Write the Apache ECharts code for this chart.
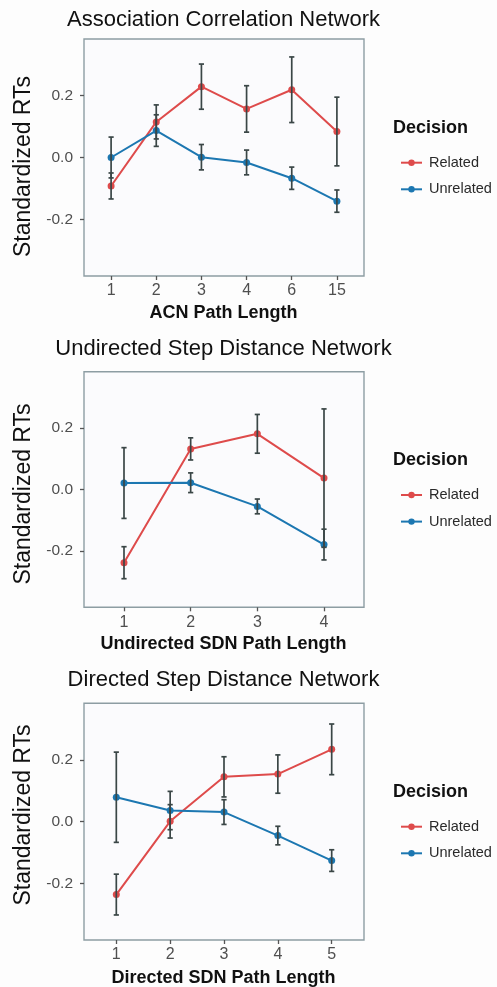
<!DOCTYPE html>
<html>
<head>
<meta charset="utf-8">
<script src="https://cdn.jsdelivr.net/npm/echarts@6/dist/echarts.min.js"></script>
<style>
html,body{margin:0;padding:0;background:#fdfdfd;}
#chart{width:497px;height:987px;}
</style>
</head>
<body>
<div id="chart"></div>
<script>
// ---- Data ----
const seriesNames = ['Related', 'Unrelated'];
const yTicks = [-0.2, 0.0, 0.2];

const acnCategories = ['1', '2', '3', '4', '6', '15'];
const acnRelated = [-0.092, 0.115, 0.229, 0.157, 0.219, 0.084];
const acnRelatedErr = [0.042, 0.055, 0.073, 0.075, 0.106, 0.111];
const acnUnrelated = [0.000, 0.087, 0.001, -0.016, -0.067, -0.141];
const acnUnrelatedErr = [0.066, 0.051, 0.041, 0.040, 0.036, 0.036];

const usdnCategories = ['1', '2', '3', '4'];
const usdnRelated = [-0.238, 0.132, 0.181, 0.037];
const usdnRelatedErr = [0.052, 0.036, 0.063, 0.225];
const usdnUnrelated = [0.021, 0.022, -0.055, -0.179];
const usdnUnrelatedErr = [0.115, 0.032, 0.024, 0.050];

const dsdnCategories = ['1', '2', '3', '4', '5'];
const dsdnRelated = [-0.236, 0.001, 0.145, 0.154, 0.234];
const dsdnRelatedErr = [0.066, 0.054, 0.065, 0.062, 0.082];
const dsdnUnrelated = [0.079, 0.036, 0.031, -0.045, -0.126];
const dsdnUnrelatedErr = [0.146, 0.062, 0.040, 0.030, 0.035];

const panelTitles = ['Association Correlation Network', 'Undirected Step Distance Network', 'Directed Step Distance Network'];
const xTitles = ['ACN Path Length', 'Undirected SDN Path Length', 'Directed SDN Path Length'];
const yTitle = 'Standardized RTs';
const legendTitle = 'Decision';

// ---- Layout / style ----
const FONT = '"Liberation Sans", Arial, Helvetica, sans-serif';
const RED = '#DE4B4B';
const BLUE = '#1C77B1';
const ERR = '#3a4646';
const Y_MIN = -0.383, Y_MAX = 0.383;

const panels = [
  { cats: acnCategories, rel: acnRelated, relE: acnRelatedErr, unr: acnUnrelated, unrE: acnUnrelatedErr,
    top: 39, height: 237, titleY: 19.5, yTitleY: 166.5, xTitleY: 313, decY: 128, legTop: 149.7 },
  { cats: usdnCategories, rel: usdnRelated, relE: usdnRelatedErr, unr: usdnUnrelated, unrE: usdnUnrelatedErr,
    top: 371.7, height: 235.6, titleY: 349, yTitleY: 494, xTitleY: 644, decY: 460, legTop: 482 },
  { cats: dsdnCategories, rel: dsdnRelated, relE: dsdnRelatedErr, unr: dsdnUnrelated, unrE: dsdnUnrelatedErr,
    top: 703.3, height: 236.7, titleY: 680, yTitleY: 815, xTitleY: 978, decY: 791.7, legTop: 813.7 }
];

const grids = [], xAxes = [], yAxes = [], series = [], legends = [], graphics = [];

function errRender(params, api) {
  const x = api.value(0), lo = api.value(1), hi = api.value(2);
  const pLo = api.coord([x, lo]);
  const pHi = api.coord([x, hi]);
  const w = 2.6;
  const st = { stroke: ERR, lineWidth: 1.7 };
  return {
    type: 'group',
    children: [
      { type: 'line', shape: { x1: pLo[0], y1: pLo[1], x2: pHi[0], y2: pHi[1] }, style: st },
      { type: 'line', shape: { x1: pLo[0] - w, y1: pLo[1], x2: pLo[0] + w, y2: pLo[1] }, style: st },
      { type: 'line', shape: { x1: pHi[0] - w, y1: pHi[1], x2: pHi[0] + w, y2: pHi[1] }, style: st }
    ]
  };
}

panels.forEach((p, i) => {
  const n = p.cats.length;
  const xIdx = p.cats.map((c, k) => k + 1);
  grids.push({ left: 84, width: 280, top: p.top, height: p.height, show: true,
    borderColor: '#8d9da3', borderWidth: 1.4, backgroundColor: '#fbfbfd' });
  xAxes.push({
    type: 'value', gridIndex: i, min: 0.4, max: n + 0.6, position: 'bottom',
    axisLine: { show: false, onZero: false }, splitLine: { show: false },
    axisTick: { show: true, customValues: xIdx, length: 4, lineStyle: { color: '#555', width: 1.3 } },
    axisLabel: { customValues: xIdx, formatter: v => p.cats[Math.round(v) - 1], fontSize: 16,
      color: '#4f4f4f', margin: 7, fontFamily: FONT }
  });
  yAxes.push({
    type: 'value', gridIndex: i, min: Y_MIN, max: Y_MAX, position: 'left',
    axisLine: { show: false, onZero: false }, splitLine: { show: false },
    axisTick: { show: true, customValues: yTicks, length: 4, lineStyle: { color: '#555', width: 1.3 } },
    axisLabel: { customValues: yTicks, formatter: v => v.toFixed(1), fontSize: 15.5,
      color: '#4f4f4f', margin: 11, fontFamily: FONT }
  });
  const groups = [[p.rel, p.relE, RED], [p.unr, p.unrE, BLUE]];
  groups.forEach((g, j) => {
    series.push({
      name: seriesNames[j], type: 'line', xAxisIndex: i, yAxisIndex: i,
      data: g[0].map((v, k) => [xIdx[k], v]),
      symbol: 'circle', symbolSize: 7, color: g[2],
      lineStyle: { width: 2, color: g[2] }, itemStyle: { color: g[2] },
      z: 2, animation: false
    });
  });
  groups.forEach((g, j) => {
    series.push({
      type: 'custom', xAxisIndex: i, yAxisIndex: i, renderItem: errRender,
      data: g[0].map((v, k) => [xIdx[k], v - g[1][k], v + g[1][k]]),
      encode: { x: 0, y: [1, 2] }, z: 3, animation: false, silent: true
    });
  });
  legends.push({
    data: seriesNames, orient: 'vertical', left: 395, top: p.legTop,
    itemWidth: 21, itemHeight: 8, itemGap: 10.6,
    textStyle: { fontSize: 14.5, color: '#2a2a2a', fontFamily: FONT, lineHeight: 16, padding: [0, 0, 0, 2] },
    selectedMode: false
  });
  graphics.push(
    { type: 'text', x: 223.5, y: p.titleY, style: { text: panelTitles[i], font: '22px ' + FONT, fill: '#111',
      align: 'center', verticalAlign: 'middle', textAlign: 'center', textVerticalAlign: 'middle' } },
    { type: 'text', x: 24, y: p.yTitleY, rotation: Math.PI / 2, style: { text: yTitle, font: '23px ' + FONT, fill: '#111',
      align: 'center', verticalAlign: 'middle', textAlign: 'center', textVerticalAlign: 'middle' } },
    { type: 'text', x: 223.5, y: p.xTitleY, style: { text: xTitles[i], font: 'bold 18px ' + FONT, fill: '#111',
      align: 'center', verticalAlign: 'middle', textAlign: 'center', textVerticalAlign: 'middle' } },
    { type: 'text', x: 393, y: p.decY, style: { text: legendTitle, font: 'bold 18px ' + FONT, fill: '#111',
      align: 'left', verticalAlign: 'middle', textAlign: 'left', textVerticalAlign: 'middle' } }
  );
});

const chart = echarts.init(document.getElementById('chart'), null, { renderer: 'canvas' });
chart.setOption({
  backgroundColor: '#fdfdfd',
  animation: false,
  textStyle: { fontFamily: FONT },
  grid: grids, xAxis: xAxes, yAxis: yAxes, series: series, legend: legends, graphic: graphics
});
</script>
</body>
</html>
